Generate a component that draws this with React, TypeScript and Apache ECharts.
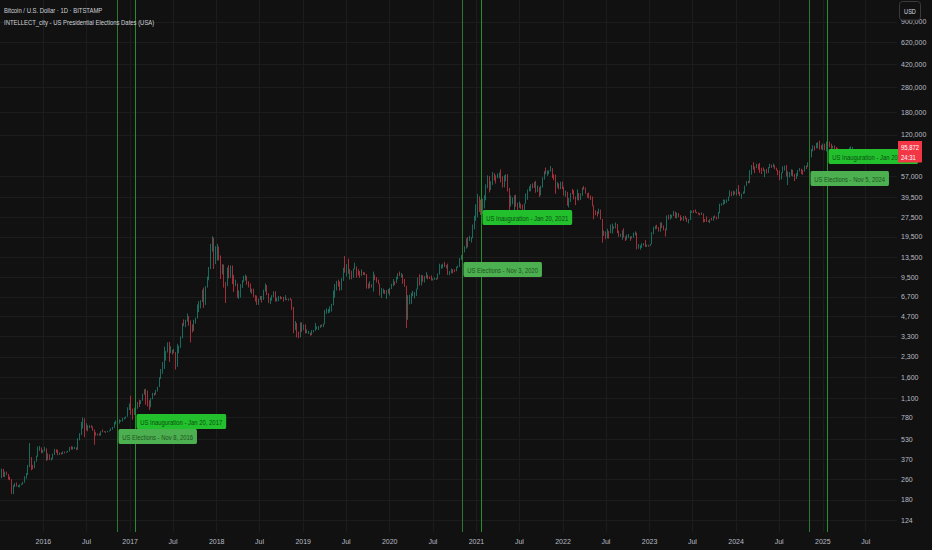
import React, { useEffect, useRef } from 'react';
import * as echarts from 'echarts';

const FONT = "'Liberation Sans', Arial, sans-serif";
const BG = '#111111';
const GRID = '#1c1c1c';
const AXIS_TEXT = '#b9bcc4';
const UP = '#1f9b86';
const DOWN = '#ee3f50';
const NARROW = 0.74;

const TITLE = 'Bitcoin / U.S. Dollar · 1D · BITSTAMP';
const SUBTITLE = 'INTELLECT_city - US Presidential Elections Dates (USA)';
const CURRENCY = 'USD';
const COUNTDOWN = '24:31';

// price axis tick labels (log scale)
const priceTicks = [124, 180, 260, 370, 530, 780, 1100, 1600, 2300, 3300, 4700, 6700, 9500, 13500, 19500, 27500, 39500, 57000, 120000, 180000, 280000, 420000, 620000, 900000];
const priceMin = 101.4;
const priceMax = 1327000;

// time axis tick labels
const xTickDates = ['2016-01-01', '2016-07-01', '2017-01-01', '2017-07-01', '2018-01-01', '2018-07-01', '2019-01-01', '2019-07-01', '2020-01-01', '2020-07-01', '2021-01-01', '2021-07-01', '2022-01-01', '2022-07-01', '2023-01-01', '2023-07-01', '2024-01-01', '2024-07-01', '2025-01-01', '2025-07-01'];
const xTickLabels = ['2016', 'Jul', '2017', 'Jul', '2018', 'Jul', '2019', 'Jul', '2020', 'Jul', '2021', 'Jul', '2022', 'Jul', '2023', 'Jul', '2024', 'Jul', '2025', 'Jul'];
const xRange = ['2015-07-02', '2025-11-10'];

// weekly candles [high, low, close]; open = previous close
const firstOpen = 245;
const w2015 = [[251, 240, 250], [276, 250, 271], [314, 265, 310], [312, 270, 274], [297, 270, 292], [297, 280, 281], [285, 258, 265], [272, 255, 257], [260, 200, 228], [235, 199, 229], [242, 226, 240], [245, 228, 231], [234, 225, 231], [237, 225, 234], [240, 234, 239], [248, 236, 247], [274, 244, 263], [290, 262, 285], [335, 280, 325], [495, 322, 385], [385, 305, 330], [335, 310, 325], [360, 315, 358], [395, 355, 390], [465, 388, 435], [470, 430, 440], [458, 412, 418]];
const w2016 = [[438, 415, 435], [462, 425, 448], [450, 360, 385], [412, 365, 402], [405, 365, 368], [380, 363, 374], [410, 370, 406], [446, 400, 438], [442, 415, 432], [440, 398, 403], [418, 400, 414], [418, 403, 410], [426, 405, 424], [425, 412, 419], [424, 415, 420], [432, 420, 427], [462, 425, 458], [468, 440, 451], [464, 440, 457], [462, 445, 458], [458, 436, 440], [540, 440, 525], [590, 520, 575], [720, 570, 700], [780, 640, 760], [770, 550, 630], [705, 620, 660], [680, 610, 650], [680, 645, 678], [680, 650, 660], [665, 615, 624], [630, 480, 590], [600, 565, 570], [585, 565, 580], [590, 565, 572], [612, 565, 610], [630, 600, 604], [612, 600, 608], [610, 593, 602], [614, 600, 612], [621, 608, 617], [643, 615, 640], [660, 627, 654], [720, 650, 697], [740, 690, 710], [725, 695, 700], [755, 700, 730], [745, 725, 735], [775, 725, 765], [780, 755, 770], [795, 765, 790], [935, 790, 895], [1002, 890, 998]];
const w2017 = [[1150, 820, 910], [915, 750, 820], [930, 815, 925], [925, 890, 920], [1030, 910, 1015], [1070, 940, 1000], [1060, 990, 1050], [1190, 1050, 1170], [1290, 1170, 1270], [1300, 980, 1230], [1260, 950, 1020], [1060, 890, 965], [1100, 935, 1095], [1210, 1080, 1190], [1210, 1150, 1180], [1275, 1170, 1250], [1350, 1240, 1350], [1600, 1340, 1560], [1850, 1550, 1770], [2100, 1700, 2050], [2760, 1850, 2200], [2550, 2150, 2520], [2980, 2480, 2950], [3000, 2100, 2530], [2780, 2450, 2560], [2600, 2400, 2500], [2650, 2460, 2500], [2400, 1830, 1930], [2900, 1920, 2750], [2800, 2450, 2750], [3300, 2700, 3230], [4200, 3200, 4100], [4480, 3980, 4050], [4450, 3900, 4350], [4980, 4300, 4600], [4750, 4000, 4300], [4400, 2970, 3700], [4100, 3550, 3650], [4450, 3650, 4400], [4620, 4150, 4600], [5850, 4550, 5700], [6200, 5100, 5950], [6300, 5450, 6150], [7600, 6100, 7400], [7900, 5500, 5900], [8100, 5800, 8000], [9600, 7900, 9300], [11400, 9000, 11200], [17200, 11000, 15200], [19700, 15000, 19100], [19200, 11000, 13900], [16500, 12000, 14100]];
const w2018 = [[17200, 12800, 16400], [16300, 12800, 13800], [14000, 9200, 11600], [12000, 10000, 11800], [11900, 7900, 8200], [8700, 6000, 8100], [11300, 8100, 10400], [11800, 9300, 9600], [11700, 9400, 11500], [11700, 8400, 9500], [9900, 7300, 8200], [9100, 8100, 8450], [8500, 6600, 6800], [7500, 6450, 7000], [8400, 6600, 8350], [9000, 7850, 8900], [9750, 8700, 9400], [9950, 8950, 9650], [9700, 8300, 8700], [8850, 7900, 8500], [8500, 7250, 7350], [7750, 7050, 7700], [7750, 6650, 6750], [6900, 6150, 6450], [6850, 5800, 6150], [6500, 5800, 6350], [6800, 6350, 6750], [6800, 6050, 6350], [7600, 6350, 7400], [8500, 7350, 8200], [8250, 6900, 7000], [7150, 6000, 6300], [6600, 5880, 6400], [6900, 6250, 6700], [7400, 6650, 7300], [7400, 6150, 6250], [6600, 6150, 6500], [6800, 6200, 6700], [6800, 6400, 6600], [6650, 6450, 6600], [6700, 6150, 6300], [6900, 6300, 6400], [6500, 6320, 6350], [6500, 6250, 6450], [6550, 6300, 6350], [6400, 5300, 5600], [5600, 3500, 4000], [4350, 3700, 4150], [4200, 3250, 3600], [3600, 3200, 3250], [4250, 3250, 3950], [4250, 3580, 3850]];
const w2019 = [[4100, 3700, 4050], [4100, 3480, 3500], [3750, 3500, 3550], [3650, 3450, 3550], [3550, 3350, 3420], [3700, 3380, 3650], [3700, 3550, 3680], [4200, 3650, 3800], [3950, 3750, 3820], [3980, 3700, 3920], [4050, 3850, 4000], [4100, 3930, 3990], [4150, 3900, 4100], [5300, 4100, 5050], [5450, 4950, 5150], [5400, 5000, 5300], [5650, 5050, 5300], [5900, 5150, 5800], [7500, 5750, 6900], [8400, 6600, 8200], [8900, 7500, 8750], [9100, 8050, 8700], [8800, 7450, 7650], [9350, 7550, 8900], [11250, 8900, 10850], [13850, 10300, 10800], [12000, 9650, 11450], [13200, 10100, 10200], [11000, 9100, 10550], [10650, 9150, 9500], [11100, 9400, 10950], [12300, 10900, 11300], [11500, 9450, 10300], [10950, 9800, 10150], [10600, 9400, 9750], [10900, 9700, 10400], [10450, 9900, 10350], [10350, 9850, 10000], [10050, 7750, 8050], [8500, 7750, 7850], [8850, 7800, 8300], [8400, 7900, 8200], [10500, 7350, 9550], [9950, 9000, 9200], [9500, 8650, 8800], [9100, 8400, 8500], [8500, 6850, 6900], [7850, 6550, 7400], [7750, 7100, 7500], [7550, 7050, 7100], [7550, 6450, 7500], [7700, 7100, 7400]];
const w2020 = [[7850, 6850, 7750], [8450, 7700, 8150], [9200, 8100, 8700], [8800, 8250, 8600], [9600, 8550, 9350], [10200, 9150, 10150], [10500, 9700, 9900], [10250, 9450, 9950], [10000, 8450, 8550], [9200, 8000, 8050], [8150, 3850, 5350], [6900, 4450, 5850], [6950, 5850, 5900], [7200, 5900, 6800], [7450, 6750, 6900], [7300, 6500, 7150], [7750, 6800, 7700], [9450, 7650, 8900], [10000, 8200, 8700], [9900, 8200, 9650], [9850, 8750, 8750], [9700, 8650, 9450], [10400, 9300, 9750], [9950, 9150, 9350], [9600, 9200, 9300], [9800, 8950, 9100], [9300, 8950, 9100], [9450, 9050, 9300], [9350, 9050, 9200], [10150, 9150, 9950], [12100, 9950, 11100], [11900, 11050, 11700], [12100, 11150, 11900], [12500, 11400, 11650], [11800, 11100, 11700], [12100, 9900, 10250], [10600, 9850, 10350], [11100, 10200, 10900], [10950, 10150, 10800], [10950, 10400, 10650], [11450, 10550, 11350], [11700, 11200, 11500], [13350, 11400, 13050], [14100, 12950, 13750], [15950, 13200, 15500], [16500, 14800, 15950], [18950, 15800, 18400], [19450, 16200, 18200], [19900, 18100, 19150], [19450, 17600, 19250], [24300, 19000, 23800], [28400, 22300, 26300]];
const w2021 = [[34800, 26000, 33000], [41950, 27700, 38200], [40100, 30400, 35800], [37800, 28800, 32300], [38500, 29200, 33100], [41000, 32300, 38900], [49700, 37400, 48600], [58300, 46300, 57400], [57500, 43000, 45200], [52600, 44900, 51200], [61800, 49200, 59000], [60600, 53200, 57500], [58400, 50400, 55800], [60200, 55500, 58200], [61400, 55400, 59800], [64900, 51500, 56200], [57500, 47000, 49000], [58400, 47100, 56600], [59500, 52600, 58200], [59600, 43800, 46400], [46600, 30000, 34700], [40800, 33400, 35700], [39300, 34800, 35800], [40900, 31100, 39100], [41300, 33300, 35600], [35800, 28800, 34600], [36600, 32700, 35300], [35100, 32100, 34300], [34600, 31000, 31800], [35400, 29300, 35400], [42300, 35200, 39900], [45300, 37700, 43800], [48100, 43800, 47000], [49800, 43900, 49300], [50500, 46300, 48800], [51900, 46600, 51800], [52900, 42800, 46000], [48800, 43400, 47200], [47400, 39600, 43200], [48500, 40800, 48200], [56500, 46900, 54700], [62900, 54000, 61500], [67000, 59500, 61300], [63700, 57800, 61300], [63700, 59500, 63300], [69000, 62300, 65500], [66300, 55600, 58600], [59300, 53500, 57300], [59200, 42000, 49400], [51900, 46900, 50100], [50500, 45500, 46700], [52000, 45600, 50800]];
const w2022 = [[52100, 45700, 47300], [47600, 40600, 41900], [44500, 39700, 43100], [43500, 34000, 36300], [38900, 32900, 37900], [42500, 36300, 42400], [45800, 41700, 42200], [44800, 38000, 38400], [40000, 34300, 37700], [45400, 37800, 38400], [42600, 37200, 37800], [42400, 37600, 41300], [47000, 40500, 46800], [48200, 45200, 46400], [47000, 42000, 42200], [42400, 39200, 39700], [42900, 38600, 39500], [40800, 37600, 38500], [40000, 33700, 34100], [34200, 26700, 31300], [31300, 28700, 30300], [30700, 28000, 29400], [32200, 29300, 29900], [31700, 26500, 26600], [26800, 17600, 20600], [21800, 19800, 21000], [21500, 18700, 19300], [22500, 19000, 20900], [21600, 18900, 20800], [24300, 20800, 22600], [24700, 20700, 23300], [23500, 22500, 23200], [25200, 22700, 24300], [24500, 20800, 21500], [21800, 19500, 19550], [20600, 19600, 19950], [21900, 18500, 21800], [22700, 19300, 19400], [19700, 18100, 18800], [20300, 18500, 19300], [20500, 19100, 19400], [19700, 18200, 19200], [19700, 18900, 19550], [21000, 19200, 20600], [21500, 20000, 20900], [21000, 15600, 16300], [17200, 15800, 16300], [16800, 15500, 16450], [17400, 16000, 17100], [17400, 16700, 17100], [18400, 16300, 16750], [17000, 16300, 16850], [16900, 16400, 16600]];
const w2023 = [[17200, 16500, 17100], [21200, 17100, 20900], [23300, 20400, 22700], [23800, 22300, 23700], [24200, 22500, 22900], [23200, 21400, 21800], [25200, 21400, 24300], [25200, 22800, 23500], [23900, 21900, 22400], [22600, 19600, 22200], [28500, 21900, 28000], [28900, 26600, 27900], [29200, 26500, 28200], [28800, 27200, 28300], [31000, 28200, 30300], [30500, 27200, 27600], [30000, 27100, 29200], [29800, 27700, 28700], [28600, 25800, 26900], [27600, 26400, 26800], [28300, 25900, 28000], [28400, 26600, 27100], [27400, 25400, 25900], [26800, 24800, 26300], [31400, 26300, 30500], [31000, 29900, 30600], [31400, 29800, 30300], [31800, 30000, 30200], [30400, 29600, 30100], [29700, 29000, 29300], [29800, 28600, 29000], [30200, 28800, 29300], [29600, 25200, 26100], [26800, 25400, 26000], [28100, 25400, 25900], [26100, 25400, 25800], [26800, 24900, 26500], [27400, 26100, 26300], [28100, 26000, 28000], [28600, 27200, 27900], [28000, 26500, 27200], [30400, 26900, 30000], [35200, 29700, 34500], [35500, 34000, 35000], [37900, 34500, 37100], [37900, 35000, 37400], [38000, 35700, 37500], [40000, 36900, 39900], [44700, 39900, 43800], [43400, 40300, 41400], [44400, 40600, 43000], [43800, 41500, 42300]];
const w2024 = [[45900, 40700, 43900], [49000, 41700, 41800], [43600, 40300, 41600], [42200, 38500, 42000], [43800, 41900, 42600], [48600, 42300, 48300], [52800, 48300, 52100], [52900, 50600, 51700], [64000, 50900, 63100], [70100, 59000, 68900], [73800, 64600, 68400], [68200, 60800, 67200], [71700, 66400, 71300], [71300, 64500, 69400], [72800, 61000, 65700], [66800, 59700, 64900], [67200, 62800, 63100], [64700, 56500, 64000], [65500, 60200, 61500], [67700, 60800, 66900], [71900, 66300, 68500], [70600, 66600, 67800], [71900, 67300, 69600], [70100, 65100, 66600], [66900, 63400, 64200], [63400, 58500, 62700], [63800, 53500, 55900], [61400, 54300, 60800], [68400, 60600, 68200], [69400, 63500, 68200], [70000, 57100, 58100], [62700, 49100, 58700], [61800, 56100, 58900], [65000, 57900, 64200], [64500, 57100, 57300], [59800, 52600, 54800], [60600, 54600, 59200], [64100, 57500, 63600], [66500, 62700, 65600], [65500, 59800, 63900], [64400, 58900, 62900], [69400, 62400, 69000], [69500, 65100, 67900], [73600, 67600, 68800], [81500, 66800, 80400], [93400, 80200, 89800], [99600, 89400, 97700], [98900, 90800, 97300], [104000, 94300, 101200], [105200, 94400, 104400], [108300, 92200, 95200], [99900, 92500, 93700]];
const w2025 = [[102700, 91200, 98300], [102500, 91200, 94500], [106400, 89300, 101300], [109400, 99500, 102600], [106500, 96100, 97700], [102500, 91200, 96500], [98800, 94100, 97600], [99500, 93400, 96300], [96500, 78200, 94200], [95000, 80000, 80700], [84000, 76600, 82600], [87500, 81200, 86100], [88800, 81600, 82400], [88500, 77100, 78300], [86100, 74400, 83700], [86500, 83000, 85200], [95700, 85100, 93700], [97900, 92800, 94300], [96900, 93400, 95872]];

const blockStarts = ['2015-06-22', '2015-12-28', '2017-01-02', '2018-01-01', '2018-12-31', '2019-12-30', '2020-12-28', '2021-12-27', '2023-01-02', '2024-01-01', '2024-12-30'];
const blockWeeks = [w2015, w2016, w2017, w2018, w2019, w2020, w2021, w2022, w2023, w2024, w2025];

// indicator events
const eventDates = ['2016-11-08', '2017-01-20', '2020-11-03', '2021-01-20', '2024-11-05', '2025-01-20'];
const eventTexts = ['US Elections - Nov 8, 2016', 'US Inauguration - Jan 20, 2017', 'US Elections - Nov 3, 2020', 'US Inauguration - Jan 20, 2021', 'US Elections - Nov 5, 2024', 'US Inauguration - Jan 20, 2025'];
const eventKinds = ['election', 'inauguration', 'election', 'inauguration', 'election', 'inauguration'];
const eventLabelPrices = [635, 830, 12460, 31470, 63040, 93300];

const KIND_STYLE: Record<string, { line: string; bg: string; text: string }> = {
  election: { line: '#2c7a31', bg: '#4caf50', text: '#1f5522' },
  inauguration: { line: '#24902d', bg: '#22c02c', text: '#0c4d12' },
};

const DAY = 86400000;
const toTime = (s: string) => Date.parse(s + 'T00:00:00Z');
const lg = (v: number) => Math.log10(v);

function buildCandles() {
  const out: number[][] = [];
  let prev = firstOpen;
  blockWeeks.forEach((weeks, b) => {
    const t0 = toTime(blockStarts[b]);
    weeks.forEach(([h, l, c], i) => {
      const o = prev;
      const hi = Math.max(h, o, c);
      const lo = Math.min(l, o, c);
      out.push([t0 + (i * 7 + 3) * DAY, lg(o), lg(c), lg(lo), lg(hi)]);
      prev = c;
    });
  });
  return out;
}

export default function App() {
  const ref = useRef<HTMLDivElement>(null);

  useEffect(() => {
    document.body.style.margin = '0';
    document.body.style.background = BG;
    const chart = echarts.init(ref.current as HTMLDivElement, null, { renderer: 'svg' });
    const candles = buildCandles();
    const tickLogs = priceTicks.map(lg);
    const xTicks = xTickDates.map(toTime);

    const priceLabel = (v: number) => {
      let best = 0;
      tickLogs.forEach((t, i) => {
        if (Math.abs(t - v) < Math.abs(tickLogs[best] - v)) best = i;
      });
      return priceTicks[best].toLocaleString('en-US');
    };
    const timeLabel = (v: number) => {
      let best = 0;
      xTicks.forEach((t, i) => {
        if (Math.abs(t - v) < Math.abs(xTicks[best] - v)) best = i;
      });
      return xTickLabels[best];
    };

    chart.setOption({
      animation: false,
      backgroundColor: BG,
      textStyle: { fontFamily: FONT },
      grid: { left: 0, right: 35, top: 0, bottom: 18, containLabel: false },
      xAxis: {
        type: 'value',
        scale: true,
        min: toTime(xRange[0]),
        max: toTime(xRange[1]),
        axisLine: { show: false },
        axisTick: { show: false, customValues: xTicks },
        axisLabel: {
          customValues: xTicks,
          formatter: (v: number) => timeLabel(v),
          color: AXIS_TEXT,
          fontSize: 7,
          fontFamily: FONT,
          margin: 6,
          hideOverlap: false,
        },
        splitLine: { show: true, lineStyle: { color: GRID, width: 1 } },
      },
      yAxis: {
        type: 'value',
        position: 'right',
        scale: true,
        min: lg(priceMin),
        max: lg(priceMax),
        axisLine: { show: false },
        axisTick: { show: false, customValues: tickLogs },
        axisLabel: {
          customValues: tickLogs,
          formatter: (v: number) => priceLabel(v),
          color: AXIS_TEXT,
          fontSize: 7,
          fontFamily: FONT,
          margin: 4,
          align: 'left',
        },
        splitLine: { show: true, lineStyle: { color: GRID, width: 1 } },
      },
      series: [
        {
          type: 'candlestick',
          dimensions: ['time', 'open', 'close', 'lowest', 'highest'],
          encode: { x: 'time', y: ['open', 'close', 'lowest', 'highest'] },
          data: candles,
          barWidth: 0.45,
          large: false,
          silent: true,
          itemStyle: { color: UP, color0: DOWN, borderColor: UP, borderColor0: DOWN, borderWidth: 0.65 },
        },
      ],
    });

    const toPx = (t: number, v: number) => chart.convertToPixel({ xAxisIndex: 0, yAxisIndex: 0 }, [t, v]) as number[];
    const plotTop = toPx(xTicks[0], lg(priceMax))[1];
    const plotBottom = toPx(xTicks[0], lg(priceMin))[1];

    const last = candles[candles.length - 1];
    const py = toPx(last[0], last[2])[1];
    const lastWeeks = blockWeeks[blockWeeks.length - 1];
    const lastPrice = lastWeeks[lastWeeks.length - 1][2];

    const eventLines = eventDates.map((d, i) => {
      const x = Math.round(toPx(toTime(d), lg(priceMin))[0]) + 0.5;
      return {
        type: 'line', z: 40, silent: true,
        shape: { x1: x, y1: plotTop, x2: x, y2: plotBottom },
        style: { stroke: KIND_STYLE[eventKinds[i]].line, lineWidth: 1 },
      };
    });

    const eventLabels = eventDates.map((d, i) => {
      const p = toPx(toTime(d), lg(eventLabelPrices[i]));
      const st = KIND_STYLE[eventKinds[i]];
      return {
        type: 'text', z: 50, silent: true,
        x: Math.round(p[0]) + 1.5, y: Math.round(p[1]), scaleX: NARROW,
        style: {
          text: eventTexts[i], font: `8px ${FONT}`, fill: st.text,
          backgroundColor: st.bg, padding: [4, 5, 3, 5], borderRadius: 2,
          align: 'left', verticalAlign: 'top',
        },
      };
    });

    chart.setOption({
      graphic: [
        ...eventLines,
        ...eventLabels,
        {
          type: 'text', x: 4, y: 10, z: 100, silent: true, scaleX: NARROW,
          style: { text: TITLE, fill: '#cfd2d8', font: `8px ${FONT}`, verticalAlign: 'middle' },
        },
        {
          type: 'text', x: 4, y: 22, z: 100, silent: true, scaleX: NARROW,
          style: { text: SUBTITLE, fill: '#cfd2d8', font: `8px ${FONT}`, verticalAlign: 'middle' },
        },
        {
          type: 'rect', z: 100, silent: true,
          shape: { x: 899.5, y: 1.5, width: 21, height: 18.5, r: 3 },
          style: { fill: BG, stroke: '#3a3a3a', lineWidth: 1 },
        },
        {
          type: 'text', z: 101, silent: true, x: 910, y: 11, scaleX: 0.7,
          style: { text: CURRENCY, fill: '#d8dae0', font: `8px ${FONT}`, align: 'center', verticalAlign: 'middle' },
        },
        {
          type: 'rect', z: 100, silent: true,
          shape: { x: 898, y: py - 6.5, width: 24, height: 21.5 },
          style: { fill: '#f23645' },
        },
        {
          type: 'text', z: 101, silent: true, x: 901, y: py, scaleX: NARROW,
          style: { text: lastPrice.toLocaleString('en-US'), fill: '#ffffff', font: `8px ${FONT}`, verticalAlign: 'middle' },
        },
        {
          type: 'text', z: 101, silent: true, x: 901, y: py + 10, scaleX: NARROW,
          style: { text: COUNTDOWN, fill: '#ffffff', font: `8px ${FONT}`, verticalAlign: 'middle' },
        },
      ],
    });

    return () => chart.dispose();
  }, []);

  return <div ref={ref} style={{ width: 932, height: 550 }} />;
}
